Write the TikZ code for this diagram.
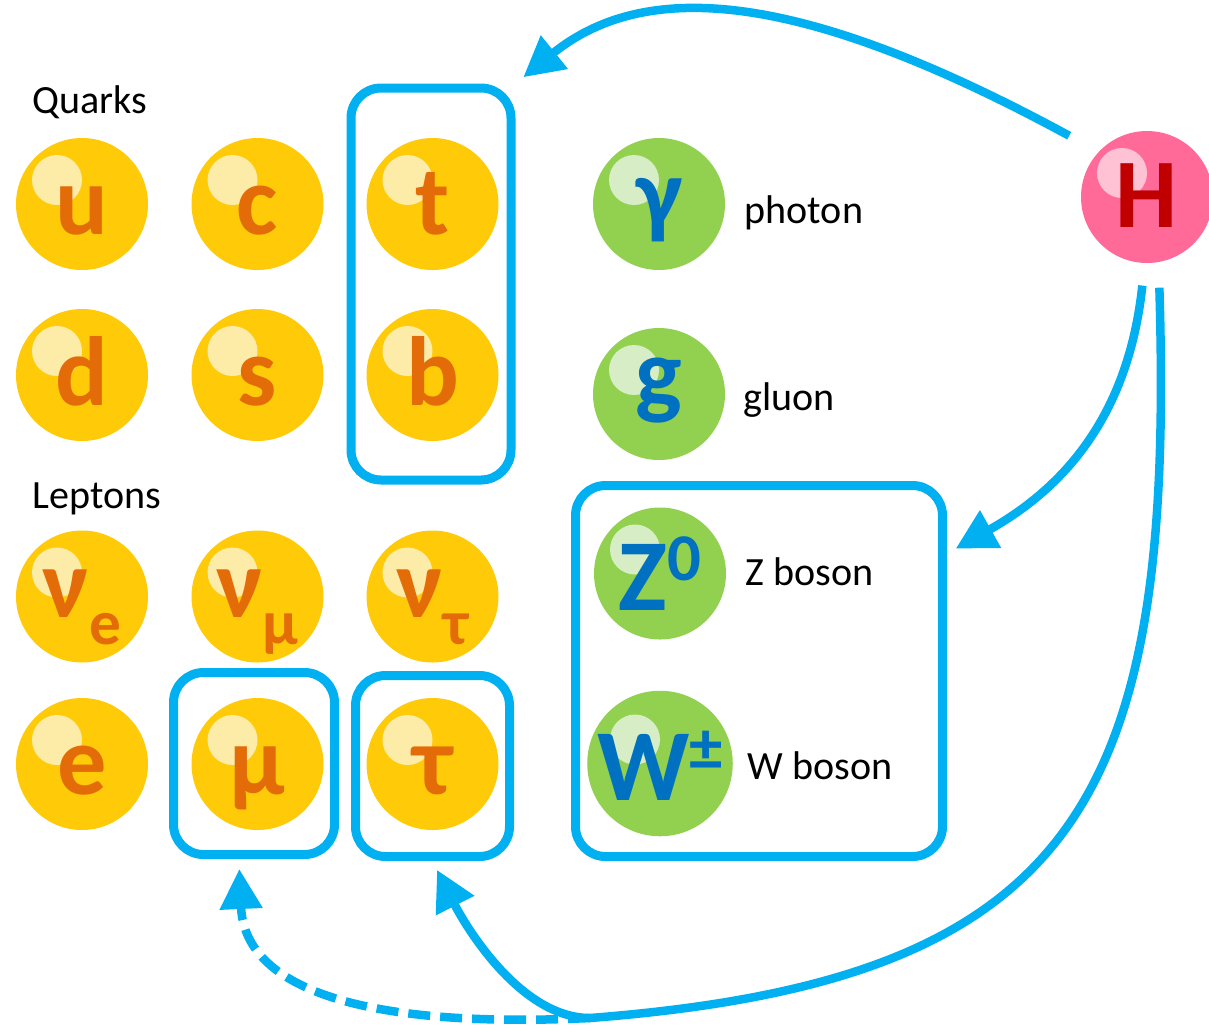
\documentclass[tikz,border=0pt]{standalone}
\usepackage{fontspec}
\setmainfont{Carlito}
\usetikzlibrary{arrows.meta}

\definecolor{qyellow}{HTML}{FFCA08}
\definecolor{qorange}{HTML}{E36C09}
\definecolor{qshine}{HTML}{FDEBA8}
\definecolor{bgreen}{HTML}{92D050}
\definecolor{bshine}{HTML}{D7EDC6}
\definecolor{bblue}{HTML}{0070C0}
\definecolor{hpink}{HTML}{FF6A99}
\definecolor{hshine}{HTML}{FFC2D5}
\definecolor{hred}{HTML}{C00000}
\definecolor{lineblue}{HTML}{00B0F0}

\newcommand{\psub}[1]{\raisebox{-0.27cm}{\fontsize{18}{18}\selectfont #1}}
\newcommand{\psup}[1]{\raisebox{0.30cm}{\fontsize{19}{19}\selectfont #1}}

\tikzset{
  ball/.style={circle, minimum size=1.32cm, inner sep=0pt, text height=0.6cm, text depth=0pt,
    font=\fontsize{28}{28}\selectfont\bfseries,
    path picture={\fill[#1] ([shift={(-0.25,0.24)}]path picture bounding box.center) circle (0.25);}},
  quark/.style={ball=qshine, fill=qyellow, text=qorange},
  boson/.style={ball=bshine, fill=bgreen, text=bblue, text height=0.74cm,
    font=\fontsize{29}{29}\selectfont\bfseries},
  higgs/.style={ball=hshine, fill=hpink, text=hred},
  selbox/.style={draw=lineblue, line width=0.9mm, rounded corners=3mm, inner sep=0pt},
  lbl/.style={anchor=base west, inner sep=0pt, font=\fontsize{11.4}{13.7}\selectfont},
  decay/.style={draw=lineblue, line width=0.85mm, ->, shorten >=1mm},
}

\begin{document}
\begin{tikzpicture}[>={Triangle[length=4mm,width=4.1mm]}]
\useasboundingbox (0,0) rectangle (12.09,-10.24);

% frames
\node[selbox, minimum width=1.60cm, minimum height=3.92cm] (tb) at (4.31,-2.84) {};
\node[selbox, minimum width=1.61cm, minimum height=1.82cm] (mubox) at (2.54,-7.635) {};
\node[selbox, minimum width=1.54cm, minimum height=1.81cm] (taubox) at (4.325,-7.66) {};
\node[selbox, minimum width=3.67cm, minimum height=3.71cm] (zw) at (7.59,-6.71) {};

% quarks
\node[lbl] (quarks) at (0.32,-1.13) {Quarks};
\node[quark] (u) at (0.82,-2.04) {u};
\node[quark] (c) at (2.575,-2.04) {c};
\node[quark] (t) at (4.325,-2.04) {t};
\node[quark] (d) at (0.82,-3.75) {d};
\node[quark] (s) at (2.575,-3.75) {s};
\node[quark] (b) at (4.325,-3.75) {b};

% leptons
\node[lbl] (leptons) at (0.32,-5.08) {Leptons};
\node[quark, text height=0.42cm] (nue) at (0.82,-5.965) {ν\psub{e}};
\node[quark, text height=0.42cm] (numu) at (2.575,-5.965) {ν\psub{μ}};
\node[quark, text height=0.42cm] (nutau) at (4.325,-5.965) {ν\psub{τ}};
\node[quark] (e) at (0.82,-7.64) {e};
\node[quark] (mu) at (2.575,-7.64) {μ};
\node[quark] (tau) at (4.325,-7.64) {τ};

% bosons
\node[boson, text height=0.44cm, font=\fontsize{28}{28}\selectfont\bfseries] (gamma) at (6.59,-2.04) {γ};
\node[boson, text height=0.24cm, font=\fontsize{28}{28}\selectfont\bfseries] (g) at (6.59,-3.94) {g};
\node[boson] (Z) at (6.60,-5.735) {Z\psup{0}};
\node[boson] (W) at (6.60,-7.635) {W\psup{±}};
\node[lbl] (photon) at (7.44,-2.23) {photon};
\node[lbl] (gluon) at (7.43,-4.10) {gluon};
\node[lbl] (zlbl) at (7.45,-5.85) {Z boson};
\node[lbl] (wlbl) at (7.47,-7.79) {W boson};

% higgs
\node[higgs] (H) at (11.47,-1.97) {H};

\coordinate (split) at (5.90,-10.18);
\draw[decay, shorten <=0.33cm] (H.137) .. controls (8.10,0.05) and (6.50,0.25) .. (tb.north east);
\draw[decay, shorten <=0.22cm] (H.268) .. controls (11.28,-4.20) and (10.60,-4.90) .. (zw.32);
\draw[decay, shorten <=0.25cm] (H.280) .. controls (11.75,-8.00) and (10.80,-9.80) .. (split)
  .. controls (5.20,-10.18) and (4.65,-9.25) .. (taubox.south);
\draw[decay, dash pattern=on 2.2mm off 1mm] (split) .. controls (3.80,-10.28) and (2.45,-9.95) .. (mubox.261);
\end{tikzpicture}
\end{document}
